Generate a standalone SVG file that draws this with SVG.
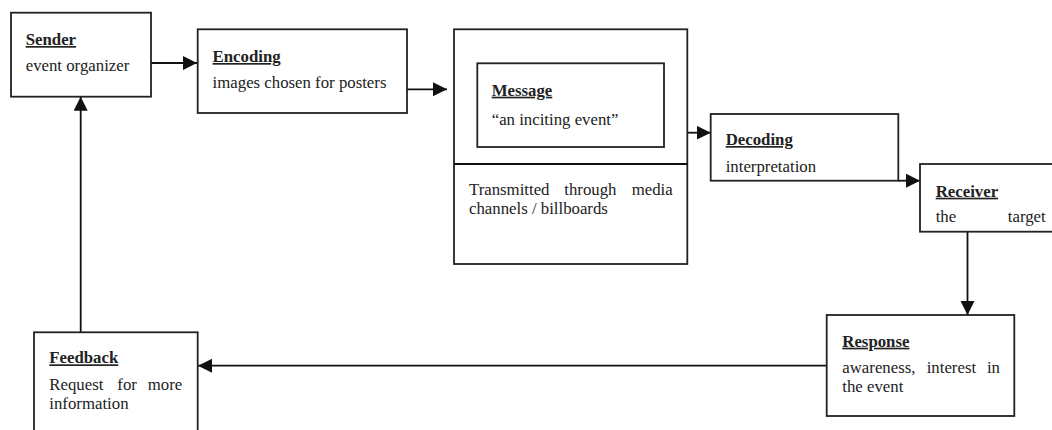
<svg xmlns="http://www.w3.org/2000/svg" width="1052" height="430" viewBox="0 0 1052 430">
<style>
  .box{fill:#fff;stroke:#222;stroke-width:1.8}
  .t{font-family:"Liberation Serif","Times New Roman",serif;font-size:16.8px;fill:#222}
  .h{font-weight:bold;text-decoration:underline}
  .c{stroke:#111;stroke-width:1.8;fill:none}
</style>
<defs>
  <marker id="ah" markerUnits="userSpaceOnUse" markerWidth="15" markerHeight="15" refX="14" refY="7" orient="auto">
    <path d="M0,0 L14,7 L0,14 z" fill="#111"/>
  </marker>
</defs>
<rect width="1052" height="430" fill="#fff"/>
<g id="connectors">
  <line class="c" x1="151" y1="63" x2="197" y2="63" marker-end="url(#ah)"/>
  <line class="c" x1="404" y1="89.3" x2="447" y2="89.3" marker-end="url(#ah)"/>
  <line class="c" x1="687" y1="132.7" x2="710.7" y2="132.7" marker-end="url(#ah)"/>
  <line class="c" x1="898" y1="180.7" x2="920" y2="180.7" marker-end="url(#ah)"/>
  <line class="c" x1="967.5" y1="231.7" x2="967.5" y2="315" marker-end="url(#ah)"/>
  <line class="c" x1="826.7" y1="365.7" x2="198" y2="365.7" marker-end="url(#ah)"/>
  <line class="c" x1="80.7" y1="332.3" x2="80.7" y2="96.7" marker-end="url(#ah)"/>
</g>
<g id="sender">
  <rect class="box" x="11" y="12.7" width="140" height="84"/>
  <text class="t h" x="25.7" y="45">Sender</text>
  <text class="t" x="25.7" y="71">event organizer</text>
</g>
<g id="encoding">
  <rect class="box" x="197.7" y="29.3" width="209.3" height="83.7"/>
  <text class="t h" x="212.6" y="62">Encoding</text>
  <text class="t" x="212.6" y="88">images chosen for posters</text>
</g>
<g id="channel">
  <rect class="box" x="454" y="29.3" width="233.3" height="234.7"/>
  <line class="c" x1="454" y1="164" x2="687.3" y2="164"/>
  <text class="t" x="469" y="195">Transmitted</text>
  <text class="t" x="564.3" y="195">through</text>
  <text class="t" x="672.7" y="195" text-anchor="end">media</text>
  <text class="t" x="469" y="214">channels / billboards</text>
</g>
<g id="message">
  <rect class="box" x="477.3" y="63.3" width="186.7" height="83.7"/>
  <text class="t h" x="491.7" y="95.7">Message</text>
  <text class="t" x="491.7" y="125">“an inciting event”</text>
</g>
<g id="decoding">
  <rect class="box" x="710.7" y="114" width="187.6" height="66.7"/>
  <text class="t h" x="725.7" y="145">Decoding</text>
  <text class="t" x="725.7" y="171.7">interpretation</text>
</g>
<g id="receiver">
  <rect class="box" x="920" y="164" width="140" height="67.7"/>
  <text class="t h" x="935.7" y="196.7">Receiver</text>
  <text class="t" x="935.7" y="221.7">the</text>
  <text class="t" x="1045.7" y="221.7" text-anchor="end">target</text>
</g>
<g id="response">
  <rect class="box" x="826.7" y="315" width="187.6" height="101"/>
  <text class="t h" x="842.3" y="346.7">Response</text>
  <text class="t" x="842.3" y="372.7">awareness,</text>
  <text class="t" x="926.7" y="372.7">interest</text>
  <text class="t" x="1000" y="372.7" text-anchor="end">in</text>
  <text class="t" x="842.3" y="391.7">the event</text>
</g>
<g id="feedback">
  <rect class="box" x="34" y="332.3" width="163.7" height="110"/>
  <text class="t h" x="49.3" y="363.3">Feedback</text>
  <text class="t" x="49.3" y="390">Request</text>
  <text class="t" x="117.3" y="390">for</text>
  <text class="t" x="182.3" y="390" text-anchor="end">more</text>
  <text class="t" x="49.3" y="409.3">information</text>
</g>
</svg>
